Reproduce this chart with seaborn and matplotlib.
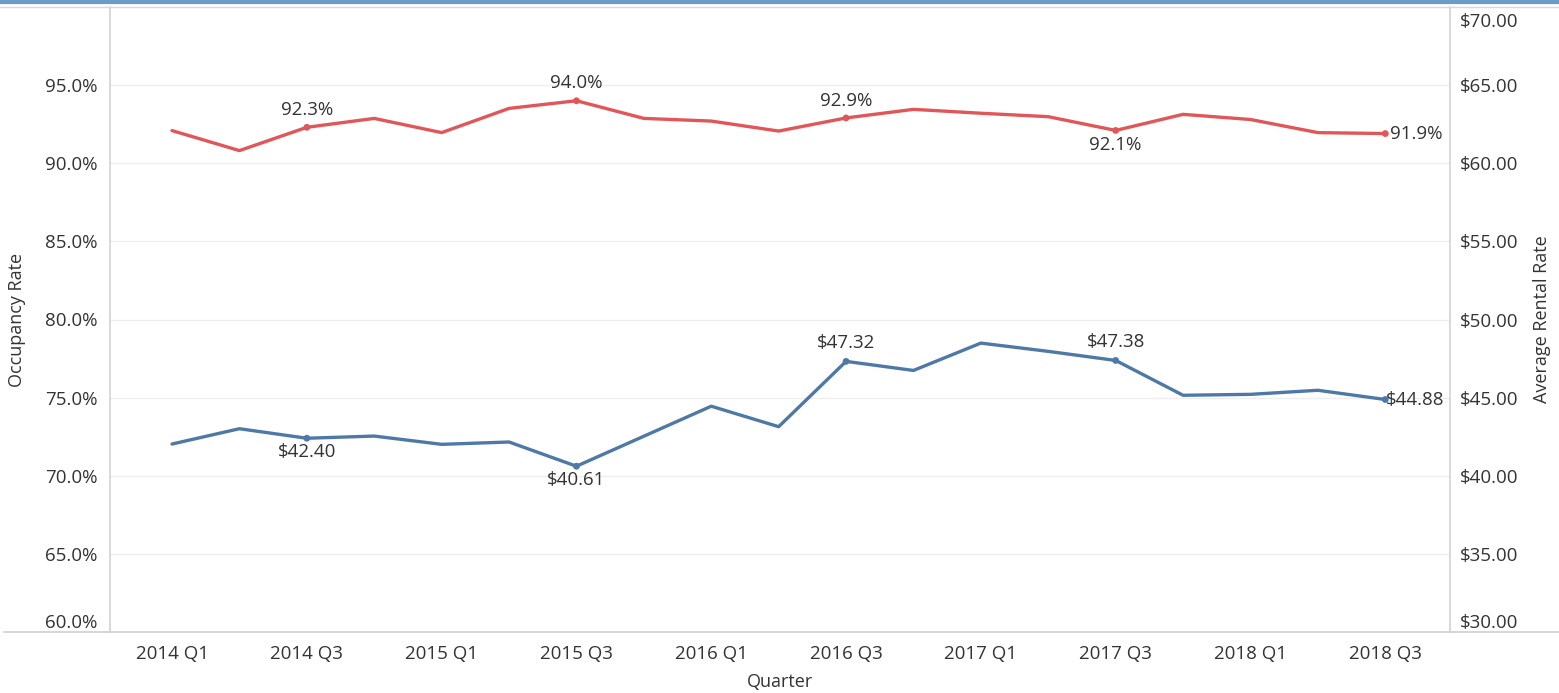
import matplotlib
matplotlib.use("Agg")
import matplotlib.pyplot as plt
from matplotlib.transforms import ScaledTranslation
from matplotlib.lines import Line2D
import seaborn as sns
import pandas as pd
import numpy as np

quarters = [f"{y} Q{q}" for y in range(2014, 2019) for q in range(1, 5)][:19]
occupancy = [92.09, 90.81, 92.3, 92.87, 91.96, 93.51, 94.0, 92.87, 92.7, 92.06,
             92.9, 93.45, 93.2, 92.98, 92.1, 93.13, 92.8, 91.96, 91.9]
rental = [42.03, 43.01, 42.40, 42.54, 42.01, 42.16, 40.61, 42.53, 44.45, 43.14,
          47.32, 46.74, 48.49, 47.96, 47.38, 45.15, 45.21, 45.47, 44.88]
labeled_idx = [2, 6, 10, 14, 18]
occ_ticks = [60, 65, 70, 75, 80, 85, 90, 95]
rent_ticks = [30, 35, 40, 45, 50, 55, 60, 65, 70]

RED = "#E15759"
BLUE = "#4E79A7"
TXT = "#333333"

df = pd.DataFrame({"Quarter": quarters, "idx": np.arange(len(quarters)),
                   "Occupancy": occupancy, "Rental": rental})

sns.set_theme(style="white")
plt.rcParams["font.family"] = ["Open Sans", "DejaVu Sans"]

fig = plt.figure(figsize=(15.59, 6.93), dpi=100)
ax = fig.add_axes([110/1559, 1-632/693, (1450-110)/1559, (632-7)/693])
ax2 = ax.twinx()

sns.lineplot(data=df, x="idx", y="Occupancy", ax=ax, color=RED, linewidth=2.4)
sns.lineplot(data=df, x="idx", y="Rental", ax=ax2, color=BLUE, linewidth=2.4)
sub = df.iloc[labeled_idx]
sns.scatterplot(data=sub, x="idx", y="Occupancy", ax=ax, color=RED, s=24,
                edgecolor="none", zorder=5)
sns.scatterplot(data=sub, x="idx", y="Rental", ax=ax2, color=BLUE, s=24,
                edgecolor="none", zorder=5)

ax.set_xlim(-0.92, 18.96)
ax.set_ylim(60, 100)
ax2.set_ylim(30, 70)

# grid
for t in occ_ticks[1:]:
    ax.axhline(t, color="#eeeeee", linewidth=1, zorder=0)

ax.set_yticks(occ_ticks)
ax.set_yticklabels([f"{t:.1f}%" for t in occ_ticks])
ax2.set_yticks(rent_ticks)
ax2.set_yticklabels([f"${t:.2f}" for t in rent_ticks])

ax.set_xticks(df["idx"])
ax.set_xticklabels([q if i % 2 == 0 else "" for i, q in enumerate(quarters)])

FS = 13.5
ax.tick_params(axis="y", length=0, pad=9, labelsize=FS, labelcolor=TXT)
ax2.tick_params(axis="y", length=0, pad=7, labelsize=FS, labelcolor=TXT)
ax.tick_params(axis="x", length=6, width=1, color="#e4e4e4", pad=3,
               labelsize=FS, labelcolor=TXT, direction="out")

# shift end tick labels inward like the reference
def shift(label, dy_px):
    label.set_transform(label.get_transform() +
                        ScaledTranslation(0, dy_px/100, fig.dpi_scale_trans))

shift(ax.get_yticklabels()[0], 11)
shift(ax2.get_yticklabels()[0], 11)
shift(ax2.get_yticklabels()[-1], -13)

ax.set_xlabel("Quarter", fontsize=13, color=TXT)
ax.set_ylabel("Occupancy Rate", fontsize=13, color=TXT)
ax2.set_ylabel("Average Rental Rate", fontsize=13, color=TXT)
ax.xaxis.set_label_coords(0.5, -0.065)
ax.yaxis.set_label_coords(-0.063, 0.5)
ax2.yaxis.set_label_coords(1.062, 0.5)

for a in (ax, ax2):
    for s in a.spines.values():
        s.set_visible(False)
ax.spines["left"].set_visible(True)
ax.spines["left"].set_color("#d4d4d4")
ax2.spines["right"].set_visible(True)
ax2.spines["right"].set_color("#d4d4d4")

# full-width frame lines
fig.add_artist(Line2D([4/1559, 1], [1-632/693]*2, color="#d0d0d0", lw=1.2,
                      transform=fig.transFigure))
fig.add_artist(Line2D([0, 1], [1-7/693]*2, color="#d8d8d8", lw=1,
                      transform=fig.transFigure))
fig.add_artist(Line2D([0, 1], [1-1.5/693]*2, color="#6b9bc6", lw=3,
                      transform=fig.transFigure))

# data labels
pt = 72/100
occ_off = {2: (0, 17, "center"), 6: (0, 18, "center"), 10: (0, 17, "center"),
           14: (0, -15, "center"), 18: (5, 0, "left")}
rent_off = {2: (0, -14, "center"), 6: (0, -14, "center"), 10: (0, 18, "center"),
            14: (0, 18, "center"), 18: (1, 0, "left")}
for i in labeled_idx:
    dx, dy, ha = occ_off[i]
    ax.annotate(f"{occupancy[i]:.1f}%", (i, occupancy[i]), xytext=(dx*pt, dy*pt),
                textcoords="offset points", ha=ha, va="center", fontsize=FS,
                color=TXT)
    dx, dy, ha = rent_off[i]
    ax2.annotate(f"${rental[i]:.2f}", (i, rental[i]), xytext=(dx*pt, dy*pt),
                 textcoords="offset points", ha=ha, va="center", fontsize=FS,
                 color=TXT)

fig.savefig("out.png", dpi=100)
